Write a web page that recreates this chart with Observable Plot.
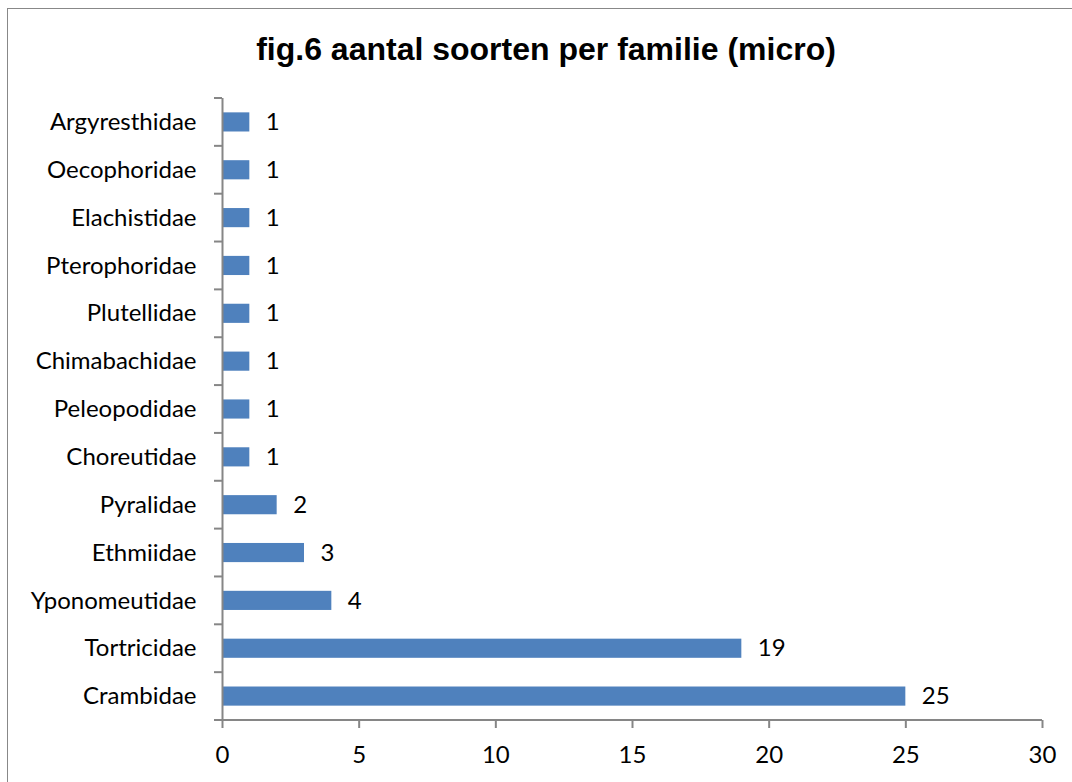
<!DOCTYPE html>
<html>
<head>
<meta charset="utf-8">
<script src="https://cdn.jsdelivr.net/npm/d3@7"></script>
<script src="https://cdn.jsdelivr.net/npm/@observablehq/plot@0.6"></script>
<style>
  html, body { margin: 0; padding: 0; background: #fff; overflow: hidden; }
  #wrap { position: relative; width: 1072px; height: 782px; }
  #frame { position: absolute; left: 7px; top: 8px; width: 1100px; height: 800px; border: 1.5px solid #888; box-sizing: border-box; }
  #title { position: absolute; left: 0; top: 31px; width: 1092px; text-align: center; font-family: "Liberation Sans", Arial, sans-serif; font-weight: bold; font-size: 32px; line-height: 36px; color: #000; }
  #chart { position: absolute; left: 0; top: 0; }
</style>
</head>
<body>
<div id="wrap">
  <div id="frame"></div>
  <div id="title">fig.6 aantal soorten per familie (micro)</div>
  <div id="chart"></div>
</div>
<script>
const families = ["Argyresthidae","Oecophoridae","Elachistidae","Pterophoridae","Plutellidae","Chimabachidae","Peleopodidae","Choreutidae","Pyralidae","Ethmiidae","Yponomeutidae","Tortricidae","Crambidae"];
const counts = [1,1,1,1,1,1,1,1,2,3,4,19,25];
const xTicks = [0,5,10,15,20,25,30];

const data = families.map((f, i) => ({family: f, count: counts[i]}));
const gray = "#868686";
const font = "Lato, 'Open Sans', sans-serif";
const fs = 24;

const chart = Plot.plot({
  width: 1072,
  height: 782,
  marginLeft: 222,
  marginRight: 30,
  marginTop: 98,
  marginBottom: 62,
  style: {fontFamily: font, fontSize: fs + "px", background: "transparent", color: "#000"},
  x: {domain: [0, 30], ticks: xTicks, label: null},
  y: {domain: families, paddingInner: 0.6, paddingOuter: 0.3, round: false, label: null},
  marks: [
    Plot.barX(data, {y: "family", x: "count", fill: "#4F81BD"}),
    Plot.text(data, {y: "family", x: "count", text: d => String(d.count), textAnchor: "start", dx: 16, fontSize: fs, fill: "#000"}),
    Plot.ruleX([0], {stroke: gray, strokeWidth: 2}),
    Plot.axisX({ticks: xTicks, tickSize: 8, tickPadding: 17, stroke: gray, strokeWidth: 2, fontSize: fs, label: null, fill: "#000"}),
    Plot.axisY({tickSize: 0, tickPadding: 26, fontSize: fs, label: null, fill: "#000"})
  ]
});

document.getElementById("chart").appendChild(chart);

// category separator ticks and x-axis baseline, positioned from the Plot scales
const ys = chart.scale("y");
const xs = chart.scale("x");
const step = ys.step;
const svg = d3.select(chart);
const gap = (step - ys.bandwidth) / 2;
const bounds = families.map(f => ys.apply(f) - gap);
bounds.push(ys.apply(families[families.length - 1]) + ys.bandwidth + gap);
const x0 = xs.apply(0);
const x1 = xs.apply(30);
const g = svg.append("g").attr("stroke", gray).attr("stroke-width", 2);
g.selectAll("line.sep").data(bounds).join("line")
  .attr("x1", x0 - 8).attr("x2", x0).attr("y1", d => d).attr("y2", d => d);
g.append("line").attr("x1", x0 - 8).attr("x2", x1)
  .attr("y1", bounds[bounds.length - 1]).attr("y2", bounds[bounds.length - 1]);
</script>
</body>
</html>
